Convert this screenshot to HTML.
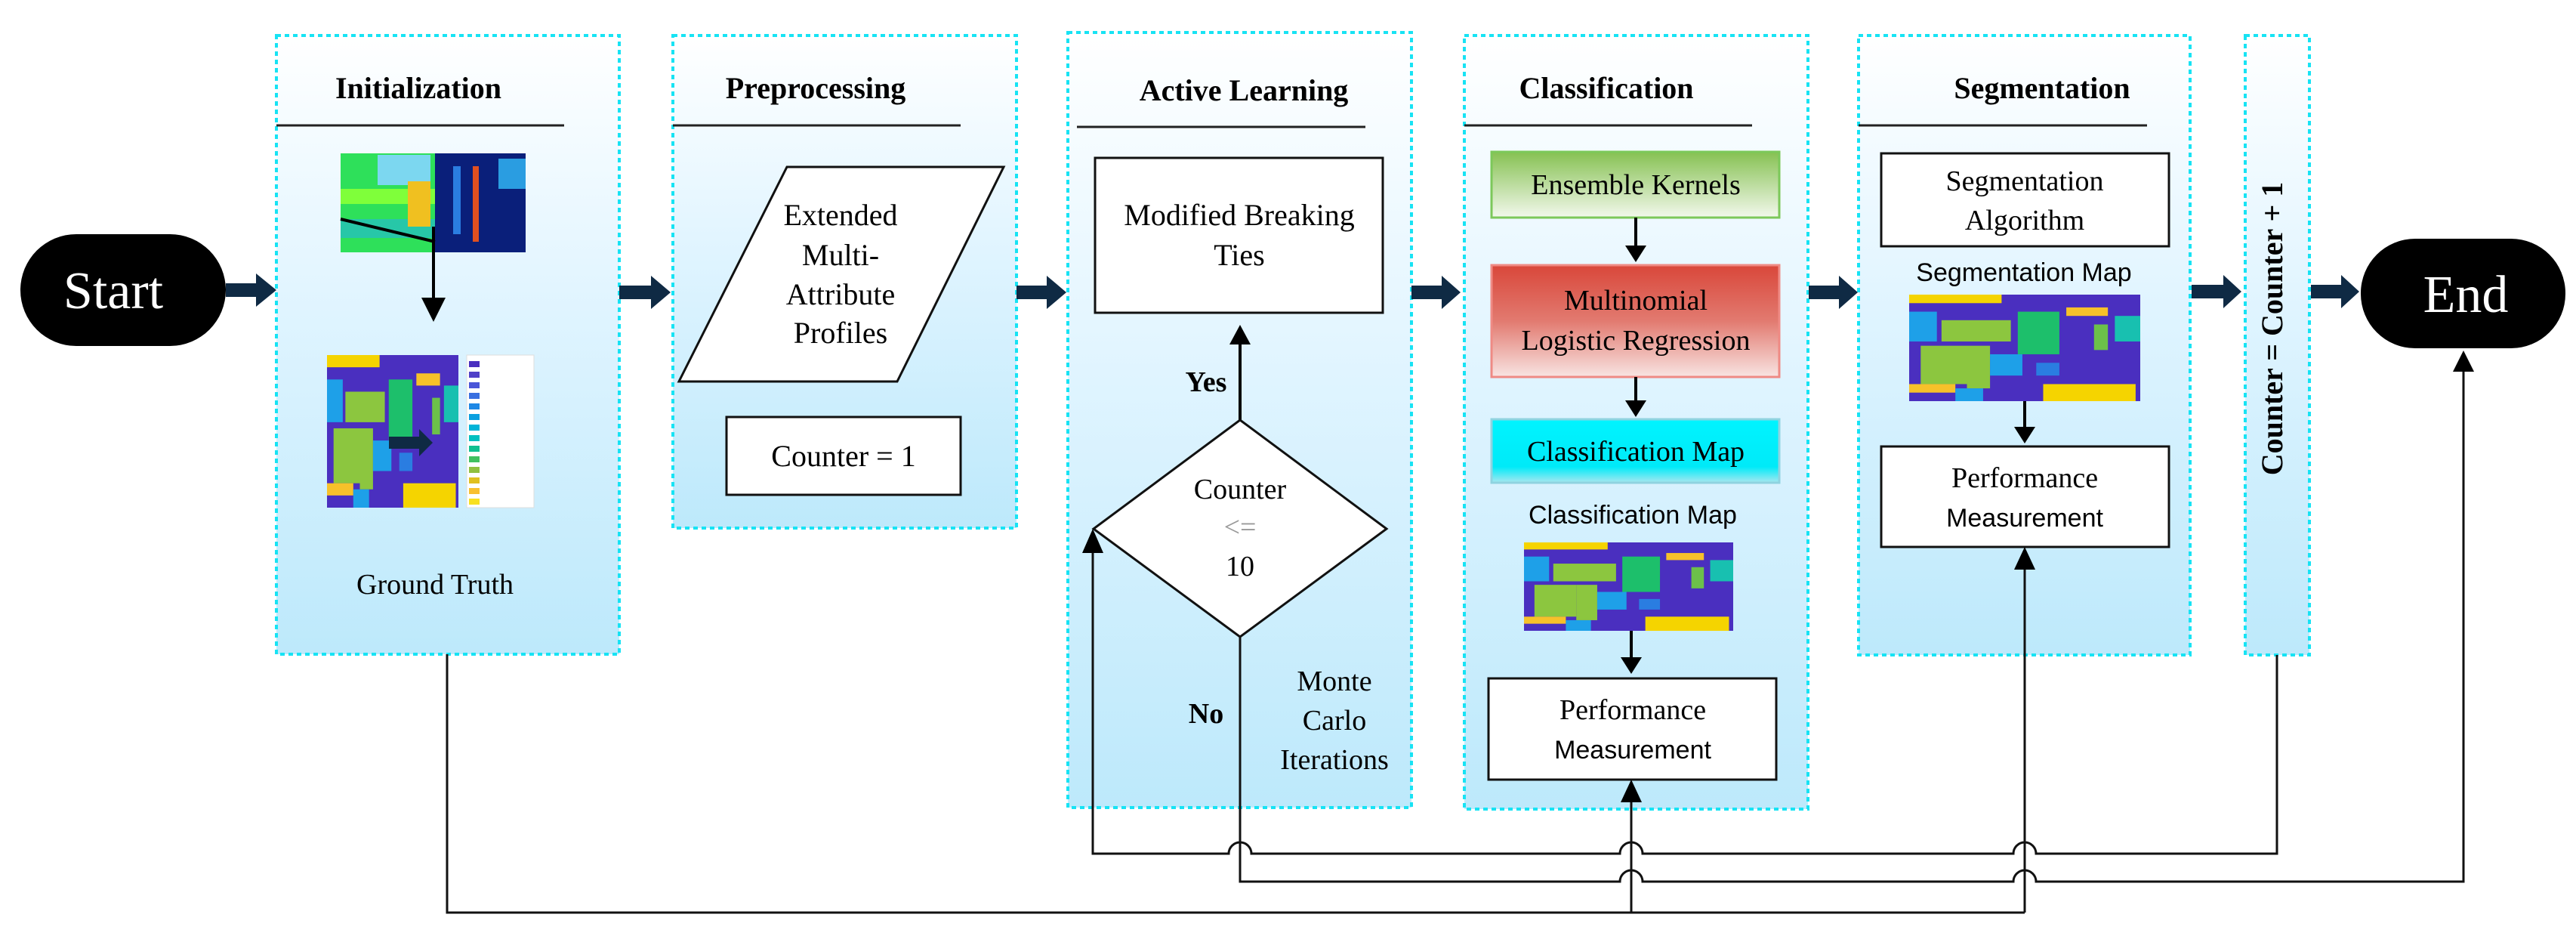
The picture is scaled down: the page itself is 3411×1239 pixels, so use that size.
<!DOCTYPE html>
<html><head><meta charset="utf-8"><style>
html,body{margin:0;padding:0;background:#fff;}
svg{display:block;}
.t{font-family:"Liberation Serif",serif;fill:#000;}
.s{font-family:"Liberation Sans",sans-serif;fill:#000;}
</style></head><body>
<svg width="3411" height="1239" viewBox="0 0 3411 1239" xmlns="http://www.w3.org/2000/svg">
<defs>
<linearGradient id="pg" x1="0" y1="0" x2="0" y2="1">
<stop offset="0" stop-color="#ffffff"/><stop offset="0.45" stop-color="#dff4ff"/><stop offset="1" stop-color="#bde9fb"/></linearGradient>
<linearGradient id="gg" x1="0" y1="0" x2="0" y2="1"><stop offset="0" stop-color="#86c152"/><stop offset="1" stop-color="#f2f8ec"/></linearGradient>
<linearGradient id="rg" x1="0" y1="0" x2="0" y2="1"><stop offset="0" stop-color="#d9473a"/><stop offset="0.5" stop-color="#e27a70"/><stop offset="1" stop-color="#f8e4e2"/></linearGradient>
<linearGradient id="cg" x1="0" y1="0" x2="0" y2="1"><stop offset="0" stop-color="#00f4ff"/><stop offset="0.75" stop-color="#00eaf8"/><stop offset="1" stop-color="#a8e8f0"/></linearGradient>
<symbol id="map" viewBox="0 0 100 50" preserveAspectRatio="none">
<rect width="100" height="50" fill="#4a2fbf"/>
<rect x="0" y="0" width="40" height="4" fill="#f5d400"/>
<rect x="0" y="8" width="12" height="14" fill="#1ea0e8"/>
<rect x="14" y="12" width="30" height="10" fill="#8cc63f"/>
<rect x="5" y="24" width="20" height="18" fill="#8cc63f"/>
<rect x="25" y="24" width="10" height="20" fill="#8cc63f"/>
<rect x="47" y="8" width="18" height="20" fill="#1dbf6b"/>
<rect x="68" y="6" width="18" height="4" fill="#f7c12a"/>
<rect x="80" y="14" width="6" height="12" fill="#6cc04a"/>
<rect x="89" y="10" width="11" height="12" fill="#18c0b0"/>
<rect x="35" y="28" width="14" height="10" fill="#1ea0e8"/>
<rect x="55" y="32" width="10" height="6" fill="#2a7de1"/>
<rect x="0" y="42" width="20" height="4" fill="#f7c12a"/>
<rect x="58" y="42" width="40" height="8" fill="#f5d400"/>
<rect x="20" y="44" width="12" height="6" fill="#1ea0e8"/>
</symbol>
</defs>

<!-- Panels -->
<rect x="366" y="47" width="454" height="819" fill="url(#pg)" stroke="#17e3f4" stroke-width="4" stroke-dasharray="6,5"/>
<rect x="891" y="47" width="455" height="652" fill="url(#pg)" stroke="#17e3f4" stroke-width="4" stroke-dasharray="6,5"/>
<rect x="1414" y="43" width="455" height="1026" fill="url(#pg)" stroke="#17e3f4" stroke-width="4" stroke-dasharray="6,5"/>
<rect x="1939" y="47" width="455" height="1024" fill="url(#pg)" stroke="#17e3f4" stroke-width="4" stroke-dasharray="6,5"/>
<rect x="2461" y="47" width="439" height="820" fill="url(#pg)" stroke="#17e3f4" stroke-width="4" stroke-dasharray="6,5"/>
<rect x="2973" y="47" width="85" height="820" fill="url(#pg)" stroke="#17e3f4" stroke-width="4" stroke-dasharray="6,5"/>

<!-- Titles -->
<g class="t" font-size="40" font-weight="bold" text-anchor="middle">
<text x="554" y="130">Initialization</text>
<text x="1080" y="130">Preprocessing</text>
<text x="1647" y="133">Active Learning</text>
<text x="2127" y="130">Classification</text>
<text x="2704" y="130">Segmentation</text>
</g>
<g stroke="#222" stroke-width="3">
<line x1="366" y1="166" x2="747" y2="166"/>
<line x1="891" y1="166" x2="1272" y2="166"/>
<line x1="1426" y1="168" x2="1808" y2="168"/>
<line x1="1939" y1="166" x2="2320" y2="166"/>
<line x1="2461" y1="166" x2="2843" y2="166"/>
</g>

<!-- Start / End -->
<rect x="27" y="310" width="272" height="148" rx="74" fill="#000"/>
<text x="150" y="408" class="t" font-size="70" fill="#fff" style="fill:#fff" text-anchor="middle">Start</text>
<rect x="3126" y="316" width="271" height="145" rx="72" fill="#000"/>
<text x="3265" y="413" class="t" font-size="70" style="fill:#fff" text-anchor="middle">End</text>

<!-- Block arrows -->
<g fill="#0f2a44">
<path d="M299,375 h40 v-13 l27,22 l-27,22 v-13 h-40z"/>
<path d="M820,378 h42 v-13 l26,22 l-26,22 v-13 h-42z"/>
<path d="M1346,378 h40 v-13 l26,22 l-26,22 v-13 h-40z"/>
<path d="M1869,378 h40 v-13 l25,22 l-25,22 v-13 h-40z"/>
<path d="M2395,378 h40 v-13 l25,22 l-25,22 v-13 h-40z"/>
<path d="M2902,377 h42 v-13 l24,22 l-24,22 v-13 h-42z"/>
<path d="M3060,377 h40 v-13 l24,22 l-24,22 v-13 h-40z"/>
</g>

<!-- Initialization contents -->
<rect x="451" y="203" width="245" height="131" fill="#0a1f7a"/>
<rect x="451" y="203" width="125" height="131" fill="#2ee05a"/>
<rect x="451" y="250" width="125" height="20" fill="#7fff3a"/>
<rect x="451" y="290" width="125" height="25" fill="#27c7a8"/>
<rect x="500" y="205" width="70" height="40" fill="#7cd7f0"/>
<rect x="540" y="240" width="30" height="60" fill="#f0c020"/>
<rect x="626" y="220" width="8" height="100" fill="#e05020"/>
<rect x="600" y="220" width="10" height="90" fill="#2a7de1"/>
<rect x="660" y="210" width="36" height="40" fill="#2a9de1"/>
<line x1="451" y1="290" x2="576" y2="320" stroke="#000" stroke-width="4"/>
<line x1="574" y1="300" x2="574" y2="395" stroke="#000" stroke-width="4"/>
<path d="M558,394 h32 l-16,32z" fill="#000"/>
<svg x="433" y="470" width="174" height="202"><use href="#map" width="174" height="202"/></svg>
<rect x="618" y="470" width="89" height="202" fill="#fff" stroke="#ddd"/>
<g>
<rect x="621" y="478" width="14" height="8" fill="#4a2fbf"/><rect x="621" y="492" width="14" height="8" fill="#5040c8"/>
<rect x="621" y="506" width="14" height="8" fill="#4a55d8"/><rect x="621" y="520" width="14" height="8" fill="#3a70e0"/>
<rect x="621" y="534" width="14" height="8" fill="#1e88e5"/><rect x="621" y="548" width="14" height="8" fill="#0aa0e0"/>
<rect x="621" y="562" width="14" height="8" fill="#00b4d8"/><rect x="621" y="576" width="14" height="8" fill="#00c0c0"/>
<rect x="621" y="590" width="14" height="8" fill="#10c090"/><rect x="621" y="604" width="14" height="8" fill="#40c060"/>
<rect x="621" y="618" width="14" height="8" fill="#90c040"/><rect x="621" y="632" width="14" height="8" fill="#e0c020"/>
<rect x="621" y="646" width="14" height="8" fill="#f8c030"/><rect x="621" y="660" width="14" height="8" fill="#f8e020"/>
</g>
<path d="M515,578 h40 v-10 l18,18 l-18,18 v-10 h-40z" fill="#0f2a44"/>
<text x="576" y="786" class="t" font-size="38" text-anchor="middle">Ground Truth</text>

<!-- Preprocessing -->
<polygon points="1042,221 1329,221 1188,505 899,505" fill="#fff" stroke="#111" stroke-width="3"/>
<g class="t" font-size="40" text-anchor="middle">
<text x="1113" y="298">Extended</text>
<text x="1113" y="351">Multi-</text>
<text x="1113" y="403">Attribute</text>
<text x="1113" y="454">Profiles</text>
</g>
<rect x="962" y="552" width="310" height="103" fill="#fff" stroke="#111" stroke-width="3"/>
<text x="1117" y="617" class="t" font-size="40" text-anchor="middle">Counter = 1</text>

<!-- Active Learning -->
<rect x="1450" y="209" width="381" height="205" fill="#fff" stroke="#111" stroke-width="3"/>
<g class="t" font-size="40" text-anchor="middle">
<text x="1641" y="298">Modified Breaking</text>
<text x="1641" y="351">Ties</text>
</g>
<line x1="1642" y1="556" x2="1642" y2="455" stroke="#000" stroke-width="4"/>
<path d="M1628,456 h28 l-14,-26z" fill="#000"/>
<text x="1597" y="518" class="t" font-size="38" font-weight="bold" text-anchor="middle">Yes</text>
<polygon points="1642,556 1836,700 1642,843 1448,700" fill="#fff" stroke="#111" stroke-width="3"/>
<g class="t" font-size="38" text-anchor="middle">
<text x="1642" y="660">Counter</text>
<text x="1642" y="710" style="fill:#999">&lt;=</text>
<text x="1642" y="762">10</text>
</g>
<text x="1597" y="957" class="t" font-size="38" font-weight="bold" text-anchor="middle">No</text>
<g class="t" font-size="38" text-anchor="middle">
<text x="1767" y="914">Monte</text>
<text x="1767" y="966">Carlo</text>
<text x="1767" y="1018">Iterations</text>
</g>

<!-- Classification -->
<rect x="1975" y="201" width="381" height="87" fill="url(#gg)" stroke="#7cc85a" stroke-width="3"/>
<text x="2166" y="257" class="t" font-size="38" text-anchor="middle">Ensemble Kernels</text>
<line x1="2166" y1="288" x2="2166" y2="330" stroke="#000" stroke-width="4"/>
<path d="M2152,325 h28 l-14,22z" fill="#000"/>
<rect x="1975" y="351" width="381" height="148" fill="url(#rg)" stroke="#ef8a84" stroke-width="3"/>
<g class="t" font-size="38" text-anchor="middle">
<text x="2166" y="410">Multinomial</text>
<text x="2166" y="463">Logistic Regression</text>
</g>
<line x1="2166" y1="499" x2="2166" y2="535" stroke="#000" stroke-width="4"/>
<path d="M2152,530 h28 l-14,22z" fill="#000"/>
<rect x="1975" y="555" width="381" height="84" fill="url(#cg)" stroke="#8fd3e0" stroke-width="3"/>
<text x="2166" y="610" class="t" font-size="38" text-anchor="middle">Classification Map</text>
<text x="2162" y="693" class="s" font-size="34" text-anchor="middle">Classification Map</text>
<svg x="2018" y="718" width="277" height="117"><use href="#map" width="277" height="117"/></svg>
<line x1="2160" y1="835" x2="2160" y2="875" stroke="#000" stroke-width="4"/>
<path d="M2146,870 h28 l-14,22z" fill="#000"/>
<rect x="1971" y="898" width="381" height="134" fill="#fff" stroke="#111" stroke-width="3"/>
<text x="2162" y="952" class="t" font-size="38" text-anchor="middle">Performance</text>
<text x="2162" y="1004" class="s" font-size="34" text-anchor="middle">Measurement</text>

<!-- Segmentation -->
<rect x="2491" y="203" width="381" height="123" fill="#fff" stroke="#111" stroke-width="3"/>
<g class="t" font-size="38" text-anchor="middle">
<text x="2681" y="252">Segmentation</text>
<text x="2681" y="304">Algorithm</text>
</g>
<text x="2680" y="372" class="s" font-size="34" text-anchor="middle">Segmentation Map</text>
<svg x="2528" y="390" width="306" height="141"><use href="#map" width="306" height="141"/></svg>
<line x1="2681" y1="531" x2="2681" y2="568" stroke="#000" stroke-width="4"/>
<path d="M2667,565 h28 l-14,22z" fill="#000"/>
<rect x="2491" y="591" width="381" height="133" fill="#fff" stroke="#111" stroke-width="3"/>
<text x="2681" y="645" class="t" font-size="38" text-anchor="middle">Performance</text>
<text x="2681" y="697" class="s" font-size="34" text-anchor="middle">Measurement</text>

<!-- Counter + 1 -->
<text transform="translate(3022,435) rotate(-90)" class="t" font-size="40" font-weight="bold" text-anchor="middle">Counter = Counter + 1</text>

<!-- Connector lines -->
<g fill="none" stroke="#111" stroke-width="3">
<!-- bottom line from GT -->
<path d="M592,866 V1208 H2681"/>
<!-- loop line y=1130 from counter+1 to diamond left -->
<path d="M3015,867 V1130 H2696 a15,15 0 0 0 -30,0 H2175 a15,15 0 0 0 -30,0 H1657 a15,15 0 0 0 -30,0 H1447 V730"/>
<!-- diamond bottom to End -->
<path d="M1642,843 V1167 H2145 a15,15 0 0 1 30,0 H2666 a15,15 0 0 1 30,0 H3262 V490"/>
<!-- verticals up to perf boxes -->
<path d="M2160,1208 V1060"/>
<path d="M2681,1208 V750"/>
</g>
<g fill="#000">
<path d="M1433,732 h28 l-14,-32z"/>
<path d="M2146,1062 h28 l-14,-30z"/>
<path d="M2667,754 h28 l-14,-30z"/>
<path d="M3248,492 h28 l-14,-28z"/>
</g>
</svg>
</body></html>
